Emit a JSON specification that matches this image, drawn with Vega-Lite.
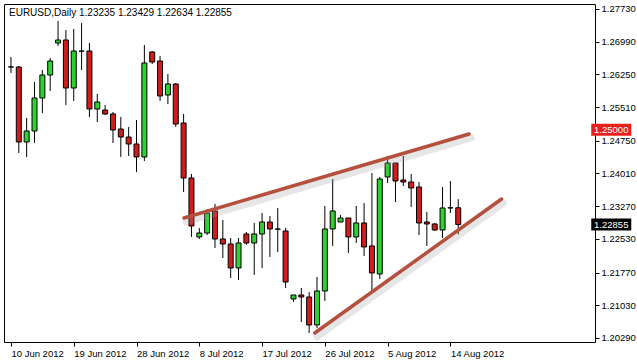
{
  "$schema": "https://vega.github.io/schema/vega-lite/v6.json",
  "autosize": "none",
  "padding": {"left": 4, "top": 4, "right": 42, "bottom": 20},
  "width": 591,
  "height": 338,
  "background": "white",
  "config": {
    "view": {"stroke": "black", "strokeWidth": 1},
    "font": "Liberation Sans"
  },
  "title": {
    "text": "EURUSD,Daily  1.23235 1.23429 1.22634 1.22855",
    "anchor": "start",
    "frame": "group",
    "orient": "top",
    "offset": -22,
    "dx": 5,
    "fontSize": 10,
    "font": "Liberation Sans",
    "fontWeight": "normal",
    "color": "black",
    "baseline": "alphabetic"
  },
  "datasets": {
    "bars": [
      {"i": 0, "date": "10 Jun 2012", "open": 1.26420, "high": 1.26645, "low": 1.26283, "close": 1.26418},
      {"i": 1, "date": "11 Jun 2012", "open": 1.26418, "high": 1.26441, "low": 1.24474, "close": 1.24722},
      {"i": 2, "date": "12 Jun 2012", "open": 1.24722, "high": 1.25265, "low": 1.24383, "close": 1.24971},
      {"i": 3, "date": "13 Jun 2012", "open": 1.24971, "high": 1.26079, "low": 1.24700, "close": 1.25717},
      {"i": 4, "date": "14 Jun 2012", "open": 1.25717, "high": 1.26351, "low": 1.25378, "close": 1.26237},
      {"i": 5, "date": "15 Jun 2012", "open": 1.26237, "high": 1.26622, "low": 1.25876, "close": 1.26554},
      {"i": 6, "date": "17 Jun 2012", "open": 1.26961, "high": 1.27459, "low": 1.26893, "close": 1.27029},
      {"i": 7, "date": "18 Jun 2012", "open": 1.27029, "high": 1.27255, "low": 1.25559, "close": 1.25943},
      {"i": 8, "date": "19 Jun 2012", "open": 1.25943, "high": 1.27278, "low": 1.25650, "close": 1.26780},
      {"i": 9, "date": "20 Jun 2012", "open": 1.26780, "high": 1.27413, "low": 1.26351, "close": 1.26775},
      {"i": 10, "date": "21 Jun 2012", "open": 1.26780, "high": 1.26961, "low": 1.25288, "close": 1.25469},
      {"i": 11, "date": "22 Jun 2012", "open": 1.25469, "high": 1.25808, "low": 1.25175, "close": 1.25627},
      {"i": 12, "date": "24 Jun 2012", "open": 1.25446, "high": 1.25559, "low": 1.25333, "close": 1.25356},
      {"i": 13, "date": "25 Jun 2012", "open": 1.25356, "high": 1.25401, "low": 1.24700, "close": 1.24994},
      {"i": 14, "date": "26 Jun 2012", "open": 1.25016, "high": 1.25288, "low": 1.24383, "close": 1.24835},
      {"i": 15, "date": "27 Jun 2012", "open": 1.24835, "high": 1.25062, "low": 1.24406, "close": 1.24677},
      {"i": 16, "date": "28 Jun 2012", "open": 1.24677, "high": 1.25220, "low": 1.24044, "close": 1.24383},
      {"i": 17, "date": "29 Jun 2012", "open": 1.24383, "high": 1.26916, "low": 1.24293, "close": 1.26509},
      {"i": 18, "date": "1 Jul 2012", "open": 1.26758, "high": 1.26780, "low": 1.26486, "close": 1.26531},
      {"i": 19, "date": "2 Jul 2012", "open": 1.26554, "high": 1.26667, "low": 1.25650, "close": 1.25763},
      {"i": 20, "date": "3 Jul 2012", "open": 1.25785, "high": 1.26260, "low": 1.25582, "close": 1.26034},
      {"i": 21, "date": "4 Jul 2012", "open": 1.26034, "high": 1.26056, "low": 1.25062, "close": 1.25129},
      {"i": 22, "date": "5 Jul 2012", "open": 1.25152, "high": 1.25356, "low": 1.23592, "close": 1.23908},
      {"i": 23, "date": "6 Jul 2012", "open": 1.23908, "high": 1.23999, "low": 1.22574, "close": 1.22823},
      {"i": 24, "date": "8 Jul 2012", "open": 1.22574, "high": 1.22778, "low": 1.22529, "close": 1.22664},
      {"i": 25, "date": "9 Jul 2012", "open": 1.22664, "high": 1.23207, "low": 1.22619, "close": 1.23117},
      {"i": 26, "date": "10 Jul 2012", "open": 1.23162, "high": 1.23320, "low": 1.22325, "close": 1.22529},
      {"i": 27, "date": "11 Jul 2012", "open": 1.22529, "high": 1.22958, "low": 1.22099, "close": 1.22416},
      {"i": 28, "date": "12 Jul 2012", "open": 1.22416, "high": 1.22551, "low": 1.21647, "close": 1.21873},
      {"i": 29, "date": "13 Jul 2012", "open": 1.21873, "high": 1.22551, "low": 1.21602, "close": 1.22438},
      {"i": 30, "date": "15 Jul 2012", "open": 1.22642, "high": 1.22687, "low": 1.22393, "close": 1.22438},
      {"i": 31, "date": "16 Jul 2012", "open": 1.22438, "high": 1.22891, "low": 1.21715, "close": 1.22642},
      {"i": 32, "date": "17 Jul 2012", "open": 1.22642, "high": 1.23117, "low": 1.21873, "close": 1.22913},
      {"i": 33, "date": "18 Jul 2012", "open": 1.22913, "high": 1.23049, "low": 1.22122, "close": 1.22755},
      {"i": 34, "date": "19 Jul 2012", "open": 1.22755, "high": 1.23230, "low": 1.22235, "close": 1.22750},
      {"i": 35, "date": "20 Jul 2012", "open": 1.22710, "high": 1.22778, "low": 1.21421, "close": 1.21556},
      {"i": 36, "date": "22 Jul 2012", "open": 1.21172, "high": 1.21262, "low": 1.21104, "close": 1.21262},
      {"i": 37, "date": "23 Jul 2012", "open": 1.21262, "high": 1.21421, "low": 1.20652, "close": 1.21217},
      {"i": 38, "date": "24 Jul 2012", "open": 1.21217, "high": 1.21330, "low": 1.20403, "close": 1.20584},
      {"i": 39, "date": "25 Jul 2012", "open": 1.20584, "high": 1.21669, "low": 1.20516, "close": 1.21353},
      {"i": 40, "date": "26 Jul 2012", "open": 1.21353, "high": 1.23275, "low": 1.21127, "close": 1.22755},
      {"i": 41, "date": "27 Jul 2012", "open": 1.22755, "high": 1.23886, "low": 1.22371, "close": 1.23162},
      {"i": 42, "date": "29 Jul 2012", "open": 1.22913, "high": 1.23072, "low": 1.22913, "close": 1.23004},
      {"i": 43, "date": "30 Jul 2012", "open": 1.23004, "high": 1.23004, "low": 1.22212, "close": 1.22574},
      {"i": 44, "date": "31 Jul 2012", "open": 1.22574, "high": 1.23275, "low": 1.22438, "close": 1.22891},
      {"i": 45, "date": "1 Aug 2012", "open": 1.22891, "high": 1.23343, "low": 1.22144, "close": 1.22348},
      {"i": 46, "date": "2 Aug 2012", "open": 1.22371, "high": 1.24021, "low": 1.21353, "close": 1.21760},
      {"i": 47, "date": "3 Aug 2012", "open": 1.21737, "high": 1.23931, "low": 1.21624, "close": 1.23886},
      {"i": 48, "date": "5 Aug 2012", "open": 1.23931, "high": 1.24406, "low": 1.23795, "close": 1.24247},
      {"i": 49, "date": "6 Aug 2012", "open": 1.24247, "high": 1.24247, "low": 1.23365, "close": 1.23840},
      {"i": 50, "date": "7 Aug 2012", "open": 1.23863, "high": 1.24406, "low": 1.23727, "close": 1.23818},
      {"i": 51, "date": "8 Aug 2012", "open": 1.23818, "high": 1.23999, "low": 1.23252, "close": 1.23682},
      {"i": 52, "date": "9 Aug 2012", "open": 1.23705, "high": 1.23818, "low": 1.22619, "close": 1.22891},
      {"i": 53, "date": "10 Aug 2012", "open": 1.22913, "high": 1.23139, "low": 1.22371, "close": 1.22868},
      {"i": 54, "date": "12 Aug 2012", "open": 1.22868, "high": 1.22891, "low": 1.22710, "close": 1.22732},
      {"i": 55, "date": "13 Aug 2012", "open": 1.22732, "high": 1.23705, "low": 1.22551, "close": 1.23230},
      {"i": 56, "date": "14 Aug 2012", "open": 1.23230, "high": 1.23840, "low": 1.23117, "close": 1.23235},
      {"i": 57, "date": "15 Aug 2012", "open": 1.23235, "high": 1.23429, "low": 1.22634, "close": 1.22855}
    ],
    "trend": [
      {"line": "upper", "i": 22.05, "price": 1.23004},
      {"line": "upper", "i": 58.38, "price": 1.24903},
      {"line": "lower", "i": 38.71, "price": 1.20403},
      {"line": "lower", "i": 62.52, "price": 1.23433}
    ],
    "tags": [
      {"price": 1.25000, "label": "1.25000", "kind": "level"},
      {"price": 1.22855, "label": "1.22855", "kind": "last"}
    ]
  },
  "encoding": {
    "x": {
      "type": "quantitative",
      "scale": {"domain": [-0.25, 73.79], "nice": false, "zero": false},
      "axis": {
        "orient": "bottom",
        "title": null,
        "values": [0, 8, 16, 24, 32, 40, 48, 56],
        "labelExpr": "['10 Jun 2012','19 Jun 2012','28 Jun 2012','8 Jul 2012','17 Jul 2012','26 Jul 2012','5 Aug 2012','14 Aug 2012'][datum.value / 8]",
        "labelAlign": "left",
        "labelPadding": 2,
        "labelFont": "Liberation Sans",
        "labelFontSize": 9.5,
        "labelColor": "black",
        "labelOverlap": false,
        "labelFlush": false,
        "tickSize": 4,
        "tickColor": "black",
        "domain": false,
        "grid": false
      }
    },
    "y": {
      "type": "quantitative",
      "scale": {"domain": [1.20199, 1.27843], "nice": false, "zero": false},
      "axis": {
        "orient": "right",
        "title": null,
        "values": [1.2773, 1.2699, 1.2625, 1.2551, 1.2475, 1.2401, 1.2327, 1.2253, 1.2177, 1.2103, 1.2029],
        "format": ".5f",
        "labelPadding": 2,
        "labelFont": "Liberation Sans",
        "labelFontSize": 9.5,
        "labelColor": "black",
        "labelOverlap": false,
        "labelFlush": false,
        "tickSize": 4,
        "tickColor": "black",
        "domain": false,
        "grid": false
      }
    }
  },
  "layer": [
    {
      "data": {"name": "bars"},
      "mark": {"type": "rule", "color": "black", "strokeWidth": 1},
      "encoding": {
        "x": {"field": "i"},
        "y": {"field": "low"},
        "y2": {"field": "high"}
      }
    },
    {
      "data": {"name": "bars"},
      "mark": {"type": "bar", "width": 5, "stroke": "black", "strokeWidth": 1},
      "encoding": {
        "x": {"field": "i"},
        "y": {"field": "open"},
        "y2": {"field": "close"},
        "fill": {
          "condition": {"test": "datum.close > datum.open", "value": "#2fd12f"},
          "value": "#d01c1c"
        }
      }
    },
    {
      "mark": {"type": "rule", "color": "#c0c0c0", "strokeWidth": 1},
      "encoding": {"y": {"datum": 1.22855}}
    },
    {
      "mark": {"type": "rule", "color": "#c83030", "strokeWidth": 1},
      "encoding": {"y": {"datum": 1.25}}
    },
    {
      "data": {"name": "trend"},
      "mark": {"type": "line", "color": "#9a9a9a", "strokeWidth": 7, "opacity": 0.25, "xOffset": 2, "yOffset": 4, "strokeCap": "round"},
      "encoding": {
        "x": {"field": "i"},
        "y": {"field": "price"},
        "detail": {"field": "line"}
      }
    },
    {
      "data": {"name": "trend"},
      "mark": {"type": "line", "color": "#b5503f", "strokeWidth": 3.5, "strokeCap": "round"},
      "encoding": {
        "x": {"field": "i"},
        "y": {"field": "price"},
        "detail": {"field": "line"}
      }
    },
    {
      "mark": {"type": "point", "shape": "triangle-down", "filled": true, "color": "#b0b0b0", "size": 40, "opacity": 1},
      "encoding": {"x": {"datum": 58.9}, "y": {"datum": 1.2781}}
    },
    {
      "data": {"name": "tags"},
      "mark": {"type": "point", "shape": "M-1,-0.3L1,-0.3L1,0.3L-1,0.3Z", "filled": true, "size": 1600, "opacity": 1, "strokeWidth": 0},
      "encoding": {
        "x": {"datum": 76.5},
        "y": {"field": "price"},
        "color": {
          "condition": {"test": "datum.kind === 'level'", "value": "#e8201c"},
          "value": "#000000"
        }
      }
    },
    {
      "data": {"name": "tags"},
      "mark": {"type": "text", "color": "white", "font": "Liberation Sans", "fontSize": 9.5, "align": "center", "baseline": "middle"},
      "encoding": {
        "x": {"datum": 76.5},
        "y": {"field": "price"},
        "text": {"field": "label"}
      }
    }
  ]
}
